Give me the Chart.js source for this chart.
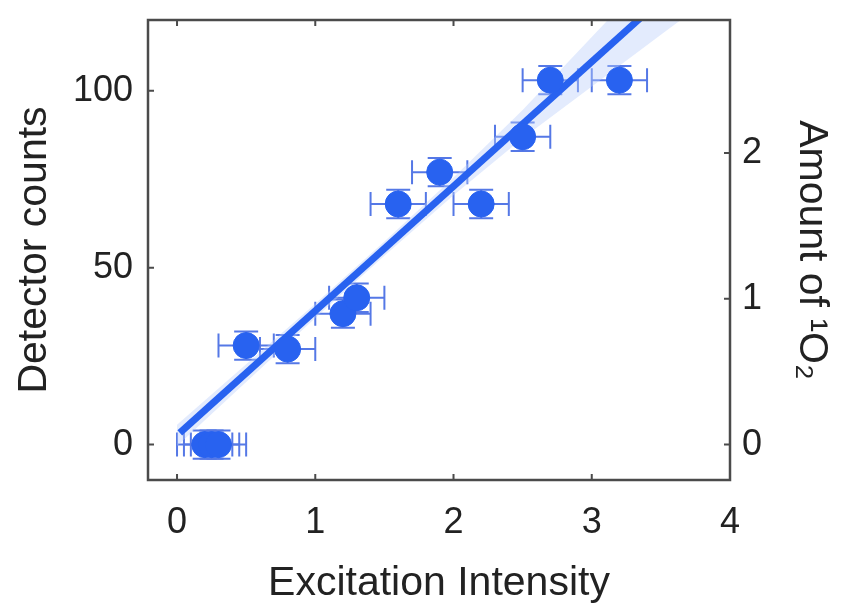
<!DOCTYPE html>
<html>
<head>
<meta charset="utf-8">
<script src="https://cdn.jsdelivr.net/npm/chart.js@4"></script>
<style>
  html, body { margin: 0; padding: 0; background: #fff; }
  #wrap { width: 856px; height: 613px; }
</style>
</head>
<body>
<div id="wrap"><canvas id="chart"></canvas></div>
<script>
// measured points (excitation intensity vs detector counts)
var xValues = [0.2, 0.25, 0.3, 0.5, 0.8, 1.2, 1.3, 1.6, 1.9, 2.2, 2.5, 2.7, 3.2];
var yValues = [0, 0, 0, 28, 27, 37, 41.5, 68, 77, 68, 87, 103, 103];
var xErr = [0.2, 0.2, 0.2, 0.2, 0.2, 0.2, 0.2, 0.2, 0.2, 0.2, 0.2, 0.2, 0.2];
var yErr = [4, 4, 4, 4, 4, 4, 4, 4, 4, 4, 4, 4, 4];

// linear fit and its confidence band
var fitSlope = 35.2;
var fitIntercept = 2.6;
var fitX = [0.02, 3.6];
var bandX = [0, 0.5, 1, 1.5, 2, 2.5, 3, 3.5, 4];
var bandHalf = [3, 2.5, 2, 2, 2.5, 4, 7, 10, 13];

var xTicks = [0, 1, 2, 3, 4];
var yTicks = [0, 50, 100];
var y2Ticks = [0, 1, 2];
var countsPerUnit = 41.2; // detector counts per unit of 1O2

var blue = 'rgb(40, 98, 240)';
var errColor = 'rgb(85, 120, 230)';
var font = "'Liberation Sans', Arial, sans-serif";

var fitLine = fitX.map(function (x) { return { x: x, y: fitIntercept + fitSlope * x }; });
var bandUpper = bandX.map(function (x, i) { return { x: x, y: fitIntercept + fitSlope * x + bandHalf[i] }; });
var bandLower = bandX.map(function (x, i) { return { x: x, y: fitIntercept + fitSlope * x - bandHalf[i] }; });
var points = xValues.map(function (x, i) { return { x: x, y: yValues[i] }; });

var errorBars = {
  id: 'errorBars',
  beforeDatasetsDraw: function (chart) {
    var ctx = chart.ctx, xs = chart.scales.x, ys = chart.scales.y;
    var cap = 12;
    ctx.save();
    ctx.strokeStyle = errColor;
    ctx.lineWidth = 2;
    xValues.forEach(function (x, i) {
      var px = xs.getPixelForValue(x), py = ys.getPixelForValue(yValues[i]);
      var x0 = xs.getPixelForValue(x - xErr[i]), x1 = xs.getPixelForValue(x + xErr[i]);
      var y0 = ys.getPixelForValue(yValues[i] - yErr[i]), y1 = ys.getPixelForValue(yValues[i] + yErr[i]);
      ctx.beginPath();
      ctx.moveTo(x0, py); ctx.lineTo(x1, py);
      ctx.moveTo(x0, py - cap); ctx.lineTo(x0, py + cap);
      ctx.moveTo(x1, py - cap); ctx.lineTo(x1, py + cap);
      ctx.moveTo(px, y0); ctx.lineTo(px, y1);
      ctx.moveTo(px - cap, y0); ctx.lineTo(px + cap, y0);
      ctx.moveTo(px - cap, y1); ctx.lineTo(px + cap, y1);
      ctx.stroke();
    });
    ctx.restore();
  }
};

// matlab style box with inward ticks
var boxAxes = {
  id: 'boxAxes',
  afterDraw: function (chart) {
    var ctx = chart.ctx, a = chart.chartArea;
    var xs = chart.scales.x, ys = chart.scales.y, y2 = chart.scales.y2;
    var t = 6;
    ctx.save();
    ctx.strokeStyle = 'rgb(75, 75, 75)';
    ctx.lineWidth = 2.5;
    ctx.strokeRect(a.left, a.top, a.right - a.left, a.bottom - a.top);
    ctx.lineWidth = 2;
    ctx.beginPath();
    xTicks.forEach(function (v) {
      var p = xs.getPixelForValue(v);
      ctx.moveTo(p, a.bottom); ctx.lineTo(p, a.bottom - t);
      ctx.moveTo(p, a.top); ctx.lineTo(p, a.top + t);
    });
    yTicks.forEach(function (v) {
      var p = ys.getPixelForValue(v);
      ctx.moveTo(a.left, p); ctx.lineTo(a.left + t, p);
    });
    y2Ticks.forEach(function (v) {
      var p = y2.getPixelForValue(v);
      ctx.moveTo(a.right, p); ctx.lineTo(a.right - t, p);
    });
    ctx.stroke();
    ctx.restore();
  }
};

function noPad(s) { s.paddingTop = 0; s.paddingBottom = 0; s.paddingLeft = 0; s.paddingRight = 0; }

new Chart(document.getElementById('chart'), {
  type: 'scatter',
  data: {
    datasets: [
      {
        data: points,
        backgroundColor: blue,
        borderColor: blue,
        pointRadius: 13,
        pointHoverRadius: 13
      },
      {
        type: 'line',
        data: fitLine,
        borderColor: blue,
        borderWidth: 7,
        pointRadius: 0,
        fill: false
      },
      {
        type: 'line',
        data: bandUpper,
        borderWidth: 0,
        pointRadius: 0,
        fill: false
      },
      {
        type: 'line',
        data: bandLower,
        borderWidth: 0,
        pointRadius: 0,
        backgroundColor: 'rgba(185, 205, 250, 0.4)',
        fill: '-1'
      }
    ]
  },
  options: {
    responsive: true,
    maintainAspectRatio: false,
    animation: false,
    layout: { padding: { top: 20, left: 0, right: 0, bottom: 0 } },
    plugins: { legend: { display: false }, tooltip: { enabled: false } },
    scales: {
      x: {
        type: 'linear',
        min: -0.21,
        max: 4,
        afterFit: function (s) { s.height = 133; noPad(s); },
        afterBuildTicks: function (s) { s.ticks = xTicks.map(function (v) { return { value: v }; }); },
        grid: { display: false, drawTicks: false },
        border: { display: false },
        ticks: { color: '#222', padding: 21, font: { family: font, size: 36 } },
        title: {
          display: true,
          text: 'Excitation Intensity',
          color: '#222',
          padding: { top: 0, bottom: 5 },
          font: { family: font, size: 41 }
        }
      },
      y: {
        type: 'linear',
        position: 'left',
        min: -10,
        max: 120,
        afterFit: function (s) { s.width = 148; noPad(s); },
        afterBuildTicks: function (s) { s.ticks = yTicks.map(function (v) { return { value: v }; }); },
        grid: { display: false, drawTicks: false },
        border: { display: false },
        ticks: { color: '#222', padding: 15, font: { family: font, size: 36 } },
        title: {
          display: true,
          text: 'Detector counts',
          color: '#222',
          padding: { top: 10, bottom: 0 },
          font: { family: font, size: 41 }
        }
      },
      y2: {
        type: 'linear',
        position: 'right',
        min: -10 / countsPerUnit,
        max: 120 / countsPerUnit,
        afterFit: function (s) { s.width = 126; noPad(s); },
        afterBuildTicks: function (s) { s.ticks = y2Ticks.map(function (v) { return { value: v }; }); },
        grid: { display: false, drawTicks: false },
        border: { display: false },
        ticks: { color: '#222', padding: 12, font: { family: font, size: 36 } },
        title: {
          display: true,
          text: 'Amount of \u00B9O\u2082',
          color: '#222',
          padding: { top: 20, bottom: 0 },
          font: { family: font, size: 41 }
        }
      }
    }
  },
  plugins: [errorBars, boxAxes]
});
</script>
</body>
</html>
